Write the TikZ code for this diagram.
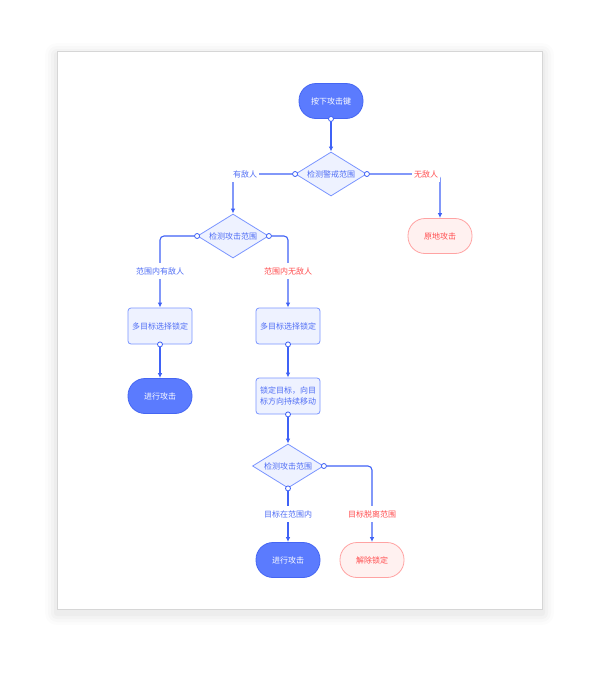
\documentclass[tikz,border=0pt]{standalone}
\usepackage{fontspec}
\setmainfont{Noto Sans CJK SC}
\usetikzlibrary{shapes.geometric,arrows.meta}
\definecolor{lineblue}{HTML}{3F62F6}
\definecolor{startfill}{HTML}{5B7BFE}
\definecolor{startdraw}{HTML}{4566F3}
\definecolor{lightfill}{HTML}{EEF2FF}
\definecolor{lightdraw}{HTML}{7A95FF}
\definecolor{lighttext}{HTML}{4F6DF5}
\definecolor{redtext}{HTML}{FF4D4F}
\definecolor{pinkfill}{HTML}{FFF1F0}
\definecolor{pinkdraw}{HTML}{FFA3A3}
\definecolor{cardline}{HTML}{D6D6D6}
\tikzset{
  base/.style={font=\fontsize{8}{10.5}\selectfont, inner sep=0pt, align=center},
  term/.style={base, rectangle, rounded corners=17pt, minimum width=64pt, minimum height=35pt, line width=0.8pt},
  termblue/.style={term, fill=startfill, draw=startdraw, text=white},
  termpink/.style={term, fill=pinkfill, draw=pinkdraw, text=redtext},
  lbox/.style={base, rectangle, rounded corners=3pt, minimum width=64pt, minimum height=36pt, fill=lightfill, draw=lightdraw, line width=0.8pt, text=lighttext},
  dia/.style={base, diamond, aspect=1.6, minimum width=71pt, minimum height=44pt, fill=lightfill, draw=lightdraw, line width=0.8pt, text=lighttext},
  lbl/.style={base, fill=white, inner xsep=2pt, inner ysep=4pt},
  lblblue/.style={lbl, text=lighttext},
  lblred/.style={lbl, text=redtext},
  conn/.style={draw=lineblue, line width=1.1pt, rounded corners=4pt, -{Latex[length=5pt,width=4.5pt]}},
  dotc/.style={draw=lineblue, fill=white, line width=0.8pt}
}
\begin{document}
\begin{tikzpicture}[x=1pt,y=-1pt]
\useasboundingbox (0,0) rectangle (600,675);
% card with soft shadow
\foreach \i/\o in {12/0.01,9/0.015,6/0.02,3/0.025}{
  \fill[black,opacity=\o,rounded corners=\i pt] (57-\i,51-\i+4) rectangle (542+\i,609+\i+4);
}
\draw[fill=white,draw=cardline,line width=0.5pt] (57,51) rectangle (542,609);

% nodes
\node[termblue] (start) at (331,101) {按下攻击键};
\node[dia] (d1) at (331,174) {检测警戒范围};
\node[termpink] (ground) at (440,236) {原地攻击};
\node[dia] (d2) at (233,236) {检测攻击范围};
\node[lbox] (b1) at (160,326) {多目标选择锁定};
\node[lbox] (b2) at (288,326) {多目标选择锁定};
\node[termblue] (att1) at (160,396) {进行攻击};
\node[lbox] (mv) at (288,396) {锁定目标，向目\\标方向持续移动};
\node[dia] (d3) at (288,466) {检测攻击范围};
\node[termblue] (att2) at (288,560) {进行攻击};
\node[termpink] (rel) at (372,560) {解除锁定};

% connectors
\draw[conn] (start.south) -- (d1.north);
\draw[conn] (d1.west) -| (d2.north);
\draw[conn] (d1.east) -| (ground.north);
\draw[conn] (d2.west) -| (b1.north);
\draw[conn] (d2.east) -| (b2.north);
\draw[conn] (b1.south) -- (att1.north);
\draw[conn] (b2.south) -- (mv.north);
\draw[conn] (mv.south) -- (d3.north);
\draw[conn] (d3.south) -- (att2.north);
\draw[conn] (d3.east) -| (rel.north);

% labels
\node[lblblue] (l1) at (245,174) {有敌人};
\node[lblred] (l2) at (426,174) {无敌人};
\node[lblblue] (l3) at (160,271) {范围内有敌人};
\node[lblred] (l4) at (288,271) {范围内无敌人};
\node[lblblue] (l5) at (288,514) {目标在范围内};
\node[lblred] (l6) at (372,514) {目标脱离范围};

% start dots
\foreach \p in {start.south, d1.west, d1.east, d2.west, d2.east, b1.south, b2.south, mv.south, d3.south, d3.east}{
  \draw[dotc] (\p) circle (2.5pt);
}
\end{tikzpicture}
\end{document}
